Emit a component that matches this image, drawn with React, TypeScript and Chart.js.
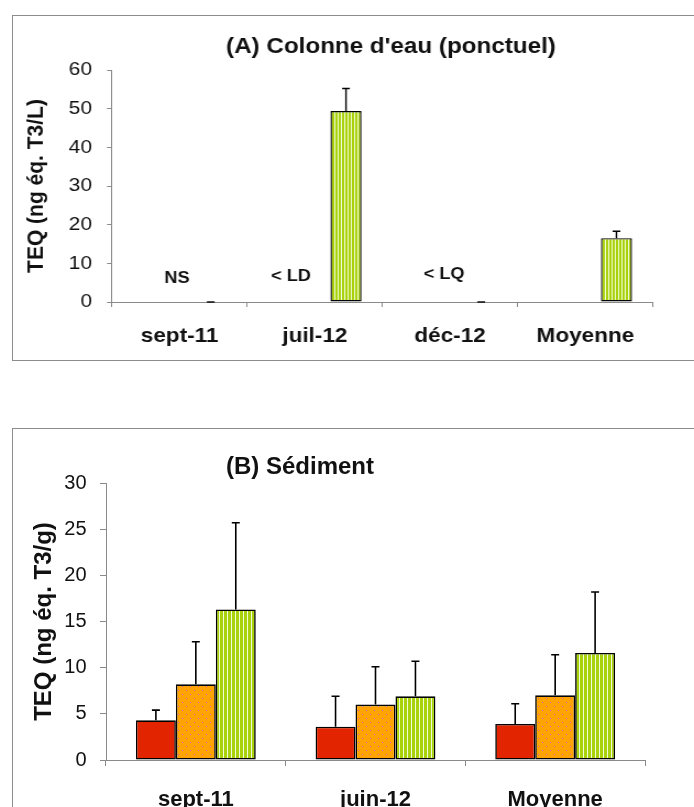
import React, { useEffect, useRef } from 'react';
import { Chart, registerables } from 'chart.js';

Chart.register(...registerables);

const FONT = '"Liberation Sans", Arial, Helvetica, sans-serif';

// ---------- Panel A data ----------
const categoriesA = ['sept-11', 'juil-12', 'déc-12', 'Moyenne'];
const titleA = "(A) Colonne d'eau (ponctuel)";
const yLabelA = 'TEQ (ng éq. T3/L)';
const yTicksA = [0, 10, 20, 30, 40, 50, 60];
const seriesA1: (number | null)[] = [null, null, null, null];
const seriesA2: (number | null)[] = [null, null, null, null];
const seriesA3: (number | null)[] = [0, 49.4, 0, 16.5];
const errorsA3 = [0, 5.8, 0, 1.8];
const noteTextsA = ['NS', '< LD', '< LQ'];
const noteCatsA = [0, 1, 2];
const noteValuesA = [6, 6.5, 7];

// ---------- Panel B data ----------
const categoriesB = ['sept-11', 'juin-12', 'Moyenne'];
const titleB = '(B) Sédiment';
const yLabelB = 'TEQ (ng éq. T3/g)';
const yTicksB = [0, 5, 10, 15, 20, 25, 30];
const seriesB1 = [4.3, 3.6, 3.9];
const errorsB1 = [1.1, 3.3, 2.2];
const seriesB2 = [8.2, 6.0, 7.0];
const errorsB2 = [4.6, 4.1, 4.4];
const seriesB3 = [16.3, 6.9, 11.6];
const errorsB3 = [9.4, 3.8, 6.6];

const seriesNames = ['Série 1', 'Série 2', 'Série 3'];

// ---------- styles ----------
const RED = '#e22400';
const ORANGE = '#ffa300';
const GREEN = '#a9d20c';
const AXIS = '#8a8a8a';
const TEXT = '#111111';

function dotPattern(): CanvasPattern | string {
  const c = document.createElement('canvas');
  c.width = 8; c.height = 8;
  const g = c.getContext('2d');
  if (!g) return ORANGE;
  g.fillStyle = ORANGE; g.fillRect(0, 0, 8, 8);
  g.fillStyle = '#c8609a';
  g.fillRect(2, 2, 1, 1); g.fillRect(6, 6, 1, 1);
  return g.createPattern(c, 'repeat') || ORANGE;
}

function stripePattern(period: number): CanvasPattern | string {
  const c = document.createElement('canvas');
  c.width = period; c.height = 4;
  const g = c.getContext('2d');
  if (!g) return GREEN;
  g.fillStyle = GREEN; g.fillRect(0, 0, period, 4);
  g.fillStyle = '#f2fbd8'; g.fillRect(period - 1, 0, 1, 4);
  return g.createPattern(c, 'repeat') || GREEN;
}

function errorBarsPlugin(errs: (number[] | null)[], cap: number, lw: number) {
  return {
    id: 'errorBars',
    afterDatasetsDraw(chart: any) {
      const { ctx } = chart;
      const ys = chart.scales.y;
      ctx.save();
      ctx.strokeStyle = '#000';
      ctx.lineWidth = lw;
      chart.data.datasets.forEach((ds: any, di: number) => {
        const e = errs[di];
        if (!e) return;
        const meta = chart.getDatasetMeta(di);
        meta.data.forEach((el: any, i: number) => {
          const v = ds.data[i];
          if (v === null || v === undefined) return;
          const x = el.x;
          const y0 = ys.getPixelForValue(v);
          const y1 = ys.getPixelForValue(v + e[i]);
          ctx.beginPath();
          ctx.moveTo(x, y0);
          ctx.lineTo(x, y1);
          ctx.moveTo(x - cap / 2, y1);
          ctx.lineTo(x + cap / 2, y1);
          ctx.stroke();
        });
      });
      ctx.restore();
    },
  };
}

function titlePlugin(text: string, x: number, y: number, size: number) {
  return {
    id: 'panelTitle',
    afterDraw(chart: any) {
      const { ctx } = chart;
      ctx.save();
      ctx.font = `bold ${size}px ${FONT}`;
      ctx.fillStyle = TEXT;
      ctx.textAlign = 'center';
      ctx.textBaseline = 'middle';
      ctx.fillText(text, x, y);
      ctx.restore();
    },
  };
}

function notesPlugin(texts: string[], cats: number[], vals: number[], dx: number[], size: number) {
  return {
    id: 'notes',
    afterDatasetsDraw(chart: any) {
      const { ctx } = chart;
      const xs = chart.scales.x;
      const ys = chart.scales.y;
      ctx.save();
      ctx.font = `bold ${size}px ${FONT}`;
      ctx.fillStyle = TEXT;
      ctx.textAlign = 'center';
      ctx.textBaseline = 'middle';
      texts.forEach((t, i) => {
        ctx.fillText(t, xs.getPixelForValue(cats[i]) + (dx[i] || 0), ys.getPixelForValue(vals[i]));
      });
      ctx.restore();
    },
  };
}

type Geo = {
  padRight: number; padTop: number; xAxisH: number; yAxisW: number;
  yTitleSize: number; yTitlePad: number; yTickSize: number; yTickPad: number; yTickLen: number;
  xTickSize: number; xTickPad: number; xTickLen: number; catPct: number; borderW: number;
};

function scalesFor(g: Geo, yTicks: number[], yLabel: string) {
  return {
    x: {
      grid: { display: true, drawOnChartArea: false, drawTicks: true, tickLength: g.xTickLen, color: AXIS, offset: true, lineWidth: 1 },
      border: { display: true, color: AXIS, width: 1 },
      ticks: { color: TEXT, font: { family: FONT, size: g.xTickSize, weight: 'bold' }, padding: g.xTickPad, maxRotation: 0, autoSkip: false },
      afterFit: (s: any) => { s.height = g.xAxisH; },
    },
    y: {
      min: yTicks[0],
      max: yTicks[yTicks.length - 1],
      grid: { display: true, drawOnChartArea: false, drawTicks: true, tickLength: g.yTickLen, color: AXIS, lineWidth: 1 },
      border: { display: true, color: AXIS, width: 1 },
      ticks: { stepSize: yTicks[1] - yTicks[0], color: TEXT, font: { family: FONT, size: g.yTickSize }, padding: g.yTickPad },
      title: { display: true, text: yLabel, color: TEXT, font: { family: FONT, size: g.yTitleSize, weight: 'bold' }, padding: { top: g.yTitlePad, bottom: 0 } },
      afterFit: (s: any) => { s.width = g.yAxisW; },
    },
  };
}

// Panel A is drawn on a canvas stretched horizontally by 1.1 (as in the reference).
const A_W = 620, A_H = 345, A_CSSW = 682;
const B_W = 682, B_H = 400;

const geoA: Geo = {
  padRight: 37.3, padTop: 55, xAxisH: 58, yAxisW: 90.9,
  yTitleSize: 21, yTitlePad: 9.2, yTickSize: 19, yTickPad: 13.7, yTickLen: 4.5,
  xTickSize: 20.5, xTickPad: 16.7, xTickLen: 5, catPct: 0.69, borderW: 1.4,
};
const geoB: Geo = {
  padRight: 49, padTop: 55, xAxisH: 68, yAxisW: 94,
  yTitleSize: 24, yTitlePad: 18, yTickSize: 20, yTickPad: 13.5, yTickLen: 6,
  xTickSize: 22, xTickPad: 21, xTickLen: 6, catPct: 0.667, borderW: 1.6,
};

export default function App() {
  const refA = useRef<HTMLCanvasElement>(null);
  const refB = useRef<HTMLCanvasElement>(null);

  useEffect(() => {
    if (!refA.current || !refB.current) return;
    const dotsA = dotPattern();
    const stripesA = stripePattern(3);
    const dotsB = dotPattern();
    const stripesB = stripePattern(4);

    const bar = (label: string, data: (number | null)[], bg: any, g: Geo) => ({
      label, data, backgroundColor: bg, borderColor: '#000', borderWidth: g.borderW,
      borderSkipped: false, categoryPercentage: g.catPct, barPercentage: 1,
    });

    const chartA = new Chart(refA.current, {
      type: 'bar',
      data: {
        labels: categoriesA,
        datasets: [
          bar(seriesNames[0], seriesA1, RED, geoA),
          bar(seriesNames[1], seriesA2, dotsA, geoA),
          bar(seriesNames[2], seriesA3, stripesA, geoA),
        ] as any,
      },
      options: {
        responsive: false,
        animation: false,
        devicePixelRatio: 1,
        layout: { padding: { left: 0, right: geoA.padRight, top: geoA.padTop, bottom: 0 } },
        plugins: { legend: { display: false }, tooltip: { enabled: false }, title: { display: false } },
        scales: scalesFor(geoA, yTicksA, yLabelA) as any,
      },
      plugins: [
        errorBarsPlugin([null, null, errorsA3], 7, 1.4),
        notesPlugin(noteTextsA, noteCatsA, noteValuesA, [-2.3, -21.8, -5.5], 16.5),
        titlePlugin(titleA, 344.5, 32, 22),
      ],
    });

    const chartB = new Chart(refB.current, {
      type: 'bar',
      data: {
        labels: categoriesB,
        datasets: [
          bar(seriesNames[0], seriesB1, RED, geoB),
          bar(seriesNames[1], seriesB2, dotsB, geoB),
          bar(seriesNames[2], seriesB3, stripesB, geoB),
        ] as any,
      },
      options: {
        responsive: false,
        animation: false,
        devicePixelRatio: 1,
        layout: { padding: { left: 0, right: geoB.padRight, top: geoB.padTop, bottom: 0 } },
        plugins: { legend: { display: false }, tooltip: { enabled: false }, title: { display: false } },
        scales: scalesFor(geoB, yTicksB, yLabelB) as any,
      },
      plugins: [
        errorBarsPlugin([errorsB1, errorsB2, errorsB3], 8, 1.6),
        titlePlugin(titleB, 288, 39, 24),
      ],
    });

    return () => { chartA.destroy(); chartB.destroy(); };
  }, []);

  return (
    <div style={{ position: 'absolute', left: 0, top: 0, width: 694, height: 807, overflow: 'hidden', background: '#fff' }}>
      <div style={{ position: 'absolute', left: 12, top: 15, width: 700, height: 346, boxSizing: 'border-box', border: '1.5px solid #8c8c8c' }} />
      <canvas
        ref={refA}
        width={A_W}
        height={A_H}
        style={{ position: 'absolute', left: 12, top: 15, width: A_CSSW, height: A_H, display: 'block' }}
      />
      <div style={{ position: 'absolute', left: 12, top: 428, width: 700, height: 420, boxSizing: 'border-box', border: '1.5px solid #8c8c8c' }} />
      <canvas
        ref={refB}
        width={B_W}
        height={B_H}
        style={{ position: 'absolute', left: 12, top: 428, width: B_W, height: B_H, display: 'block' }}
      />
    </div>
  );
}
